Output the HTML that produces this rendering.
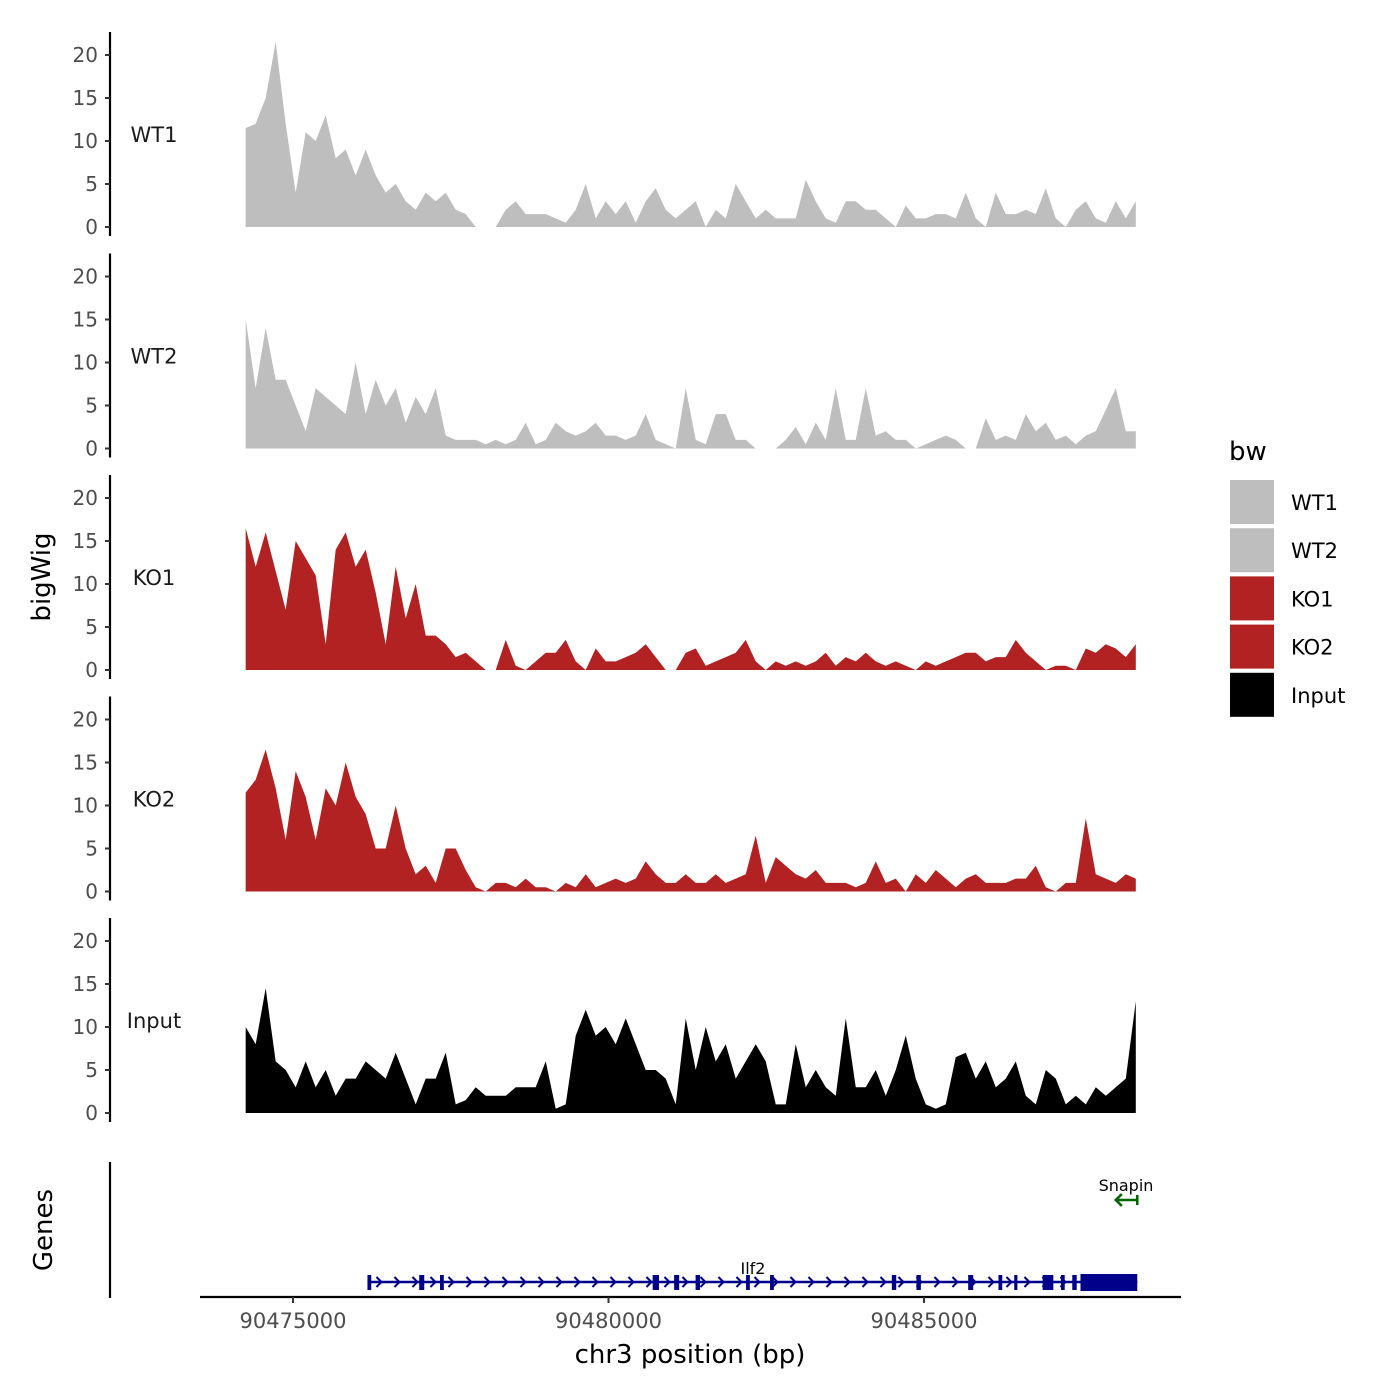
<!DOCTYPE html>
<html><head><meta charset="utf-8"><style>
html,body{margin:0;padding:0;background:#fff}
svg{display:block;font-family:"DejaVu Sans","Liberation Sans",sans-serif}
</style></head><body>
<svg id="c" width="1400" height="1400" viewBox="0 0 1400 1400">
<text x="50" y="577" transform="rotate(-90 50 577)" text-anchor="middle" font-size="26">bigWig</text>
<text x="52" y="1230" transform="rotate(-90 52 1230)" text-anchor="middle" font-size="26">Genes</text>
<text x="690" y="1363" text-anchor="middle" font-size="26">chr3 position (bp)</text>
<text x="1229" y="460" font-size="26">bw</text>
</svg>
<script>
const trackNames=["WT1","WT2","KO1","KO2","Input"];
const trackColors=["#bebebe","#bebebe","#b22222","#b22222","#000000"];
const binStart=90474250, binStep=158.5;
const WT1=[11.5,12,15,21.5,12,4,11,10,13,8, 9,6,9,6,4,5,3,2,4,3, 4,2,1.5,null,null,null,2,3,1.5,1.5, 1.5,1,0.5,2,5,1,3,1.5,3,0.5, 3,4.5,2,1,2,3,null,2,1,5, 3,1,2,1,1,1,5.5,3,1,0.5, 3,3,2,2,1,null,2.5,1,1,1.5, 1.5,1,4,1,null,4,1.5,1.5,2,1.5, 4.5,1,null,2,3,1,0.5,3,1,3];
const WT2=[15,7,14,8,8,5,2,7,6,5, 4,10,4,8,5,7,3,6,4,7, 1.5,1,1,1,0.5,1,0.5,1,3,0.5, 1,3,2,1.5,2,3,1.5,1.5,1,1.5, 4,1,0.5,null,7,1,0.5,4,4,1, 1,null,null,null,1,2.5,0.5,3,1,7, 1,1,7,1.5,2,1,1,null,0.5,1, 1.5,1,null,null,3.5,1,1.5,1,4,2, 3,1,1.5,0.5,1.5,2,4.5,7,2,2];
const KO1=[16.5,12,16,11.5,7,15,13,11,3,14, 16,12,14,9,3,12,6,10,4,4, 3,1.5,2,1,null,null,3.5,0.5,null,1, 2,2,3.5,1,null,2.5,1,1,1.5,2, 3,1.5,null,null,2,2.5,0.5,1,1.5,2, 3.5,1,null,1,0.5,1,0.5,1,2,0.5, 1.5,1,2,1,0.5,1,0.5,null,1,0.5, 1,1.5,2,2,1,1.5,1.5,3.5,2,1, null,0.5,0.5,null,2.5,2,3,2.5,1.5,3];
const KO2=[11.5,13,16.5,12,6,14,11,6,12,10, 15,11,9,5,5,10,5,2,3,1, 5,5,2.5,0.5,null,1,1,0.5,1.5,0.5, 0.5,null,1,0.5,2,0.5,1,1.5,1,1.5, 3.5,2,1,1,2,1,1,2,1,1.5, 2,6.5,1,4,3,2,1.5,2.5,1,1, 1,0.5,1,3.5,1,1.5,0,2,1,2.5, 1.5,0.5,1.5,2,1,1,1,1.5,1.5,3, 0.5,null,1,1,8.5,2,1.5,1,2,1.5];
const Input=[10,8,14.5,6,5,3,6,3,5,2, 4,4,6,5,4,7,4,1,4,4, 7,1,1.5,3,2,2,2,3,3,3, 6,0.5,1,9,12,9,10,8,11,8, 5,5,4,1,11,5,10,6,8,4, 6,8,6,1,1,8,3,5,3,2, 11,3,3,5,2,5,9,4,1,0.5, 1,6.5,7,4,6,3,4,6,2,1, 5,4,1,2,1,3,2,3,4,13];
const series=[WT1,WT2,KO1,KO2,Input];
const yTicks=[0,5,10,15,20];
const xTicks=[90475000,90480000,90485000];
const ilf2Start=90476180, ilf2End=90488380;
const ilf2Exons=[[90476180,90476240],[90477000,90477080],[90477330,90477390],[90480700,90480800],[90481040,90481120],[90481380,90481450],[90482180,90482240],[90482560,90482620],[90484490,90484560],[90484880,90484950],[90485700,90485780],[90486180,90486240],[90486430,90486480],[90486880,90487050],[90487170,90487230],[90487350,90487420],[90487480,90488380]];
const snapinStart=90488040, snapinEnd=90488380;

const NS="http://www.w3.org/2000/svg";
const svg=document.getElementById('c');
const xs=bp=>293+(bp-90475000)*315.5/5000;
function mk(t,a){const e=document.createElementNS(NS,t);for(const k in a)e.setAttribute(k,a[k]);svg.appendChild(e);return e;}

series.forEach((vals,p)=>{
  const y0=227+p*221.5;
  const ys=v=>y0-v*8.6;
  const ax=mk('line',{x1:110,x2:110,y1:y0-195,y2:y0+9,stroke:'#000','stroke-width':2.2});
  
  
  yTicks.forEach(t=>{
    const tl=mk('line',{x1:105,x2:110,y1:ys(t),y2:ys(t),stroke:'#333','stroke-width':2});
    
    
    const tx=mk('text',{x:98,y:ys(t)+7,'text-anchor':'end','font-size':20,fill:'#4d4d4d'});
    tx.textContent=t;
    
    
  });
  const xf=i=>xs(binStart+i*binStep);
  let d='M'+xf(0)+','+y0;
  vals.forEach((v,i)=>{d+='L'+xf(i)+','+ys(v===null?0:v);});
  d+='L'+xf(vals.length-1)+','+y0+'Z';
  const pa=mk('path',{d:d,fill:trackColors[p]});
  
  
  const lb=mk('text',{x:154,y:y0-85,'text-anchor':'middle','font-size':21,fill:'#1a1a1a'});
  lb.textContent=trackNames[p];
  
  
});

let e=mk('line',{x1:110,x2:110,y1:1162,y2:1298,stroke:'#000','stroke-width':2.2});


e=mk('line',{x1:200,x2:1181,y1:1297,y2:1297,stroke:'#000','stroke-width':2.2});


xTicks.forEach(t=>{
  const tl=mk('line',{x1:xs(t),x2:xs(t),y1:1297,y2:1303,stroke:'#333','stroke-width':2});
  
  
  const tx=mk('text',{x:xs(t),y:1328,'text-anchor':'middle','font-size':21,fill:'#4d4d4d'});
  tx.textContent=t;
  
  
});
e=mk('line',{x1:xs(ilf2Start),x2:xs(ilf2End),y1:1282,y2:1282,stroke:'#00008b','stroke-width':2.5});


for(let x=xs(ilf2Start)+12;x<xs(90487480);x+=18){
  const ar=mk('path',{d:`M${x-3},${1277}L${x+2},${1282}L${x-3},${1287}`,fill:'none',stroke:'#00008b','stroke-width':2});
  
  
}
ilf2Exons.forEach(([a,b])=>{
  const r=mk('rect',{x:xs(a),y:b-a>500?1274:1275,width:Math.max(3,xs(b)-xs(a)),height:b-a>500?17:15,fill:'#00008b'});
  
  
});
e=mk('text',{x:753,y:1274,'text-anchor':'middle','font-size':16,fill:'#000'});
e.textContent='Ilf2';


e=mk('path',{d:`M${xs(snapinStart)},1200L${xs(snapinEnd)},1200M${xs(snapinStart)+6},1194L${xs(snapinStart)},1200L${xs(snapinStart)+6},1206M${xs(snapinEnd)},1195L${xs(snapinEnd)},1205`,fill:'none',stroke:'#006400','stroke-width':2.5});


e=mk('text',{x:1126,y:1191,'text-anchor':'middle','font-size':16,fill:'#000'});
e.textContent='Snapin';



trackNames.forEach((n,i)=>{
  const y=480+i*48.2;
  const r=mk('rect',{x:1230,y:y,width:44,height:44,fill:trackColors[i]});
  
  
  const t=mk('text',{x:1291,y:y+30,'font-size':21,fill:'#000'});
  t.textContent=n;
  
  
});
</script>
</body></html>
